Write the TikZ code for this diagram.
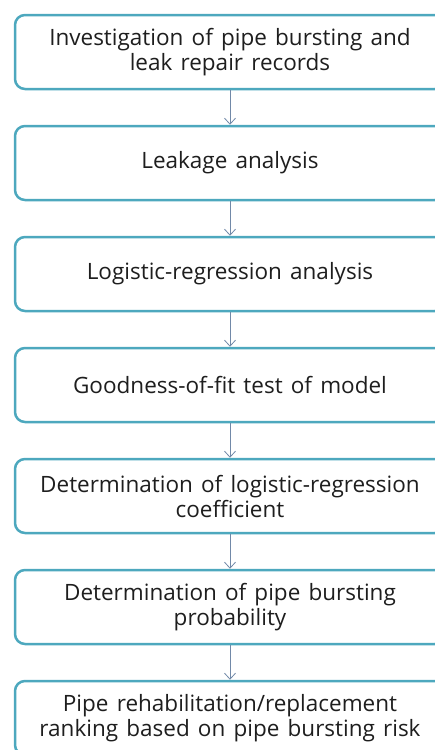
\documentclass[tikz,border=0pt]{standalone}
\usepackage{fontspec}
\setmainfont[WordSpace=1.4]{Open Sans}
\usetikzlibrary{arrows.meta,positioning}
\definecolor{frame}{HTML}{4DA8BE}
\definecolor{link}{HTML}{7189A8}
\definecolor{ink}{HTML}{1E1E1E}
\tikzset{
  stage/.style={draw=frame,line width=2.5pt,rounded corners=10pt,fill=white,align=center,
    font=\fontsize{22.5}{25}\selectfont,text=ink,minimum width=430pt,minimum height=74pt,inner sep=0pt},
  flow/.style={-{Straight Barb[length=6pt,width=11pt,line width=0.8pt]},line width=0.8pt,draw=link}
}

\begin{document}
\begin{tikzpicture}[x=1pt,y=1pt,node distance=34.5pt]
  \clip (0,0) rectangle (435,-750);
  \node[stage] (records) at (230,-52) {Investigation of pipe bursting and\\leak repair records};
  \node[stage,below=of records] (leakage) {Leakage analysis};
  \node[stage,below=of leakage] (logit) {Logistic-regression analysis};
  \node[stage,below=of logit] (fit) {Goodness-of-fit test of model};
  \node[stage,below=of fit] (coeff) {Determination of logistic-regression\\coefficient};
  \node[stage,below=of coeff] (prob) {Determination of pipe bursting\\probability};
  \node[stage,below=of prob] (rank) {Pipe rehabilitation/replacement\\ranking based on pipe bursting risk};
  \draw[flow] (records) -- (leakage);
  \draw[flow] (leakage) -- (logit);
  \draw[flow] (logit) -- (fit);
  \draw[flow] (fit) -- (coeff);
  \draw[flow] (coeff) -- (prob);
  \draw[flow] (prob) -- (rank);
\end{tikzpicture}
\end{document}
